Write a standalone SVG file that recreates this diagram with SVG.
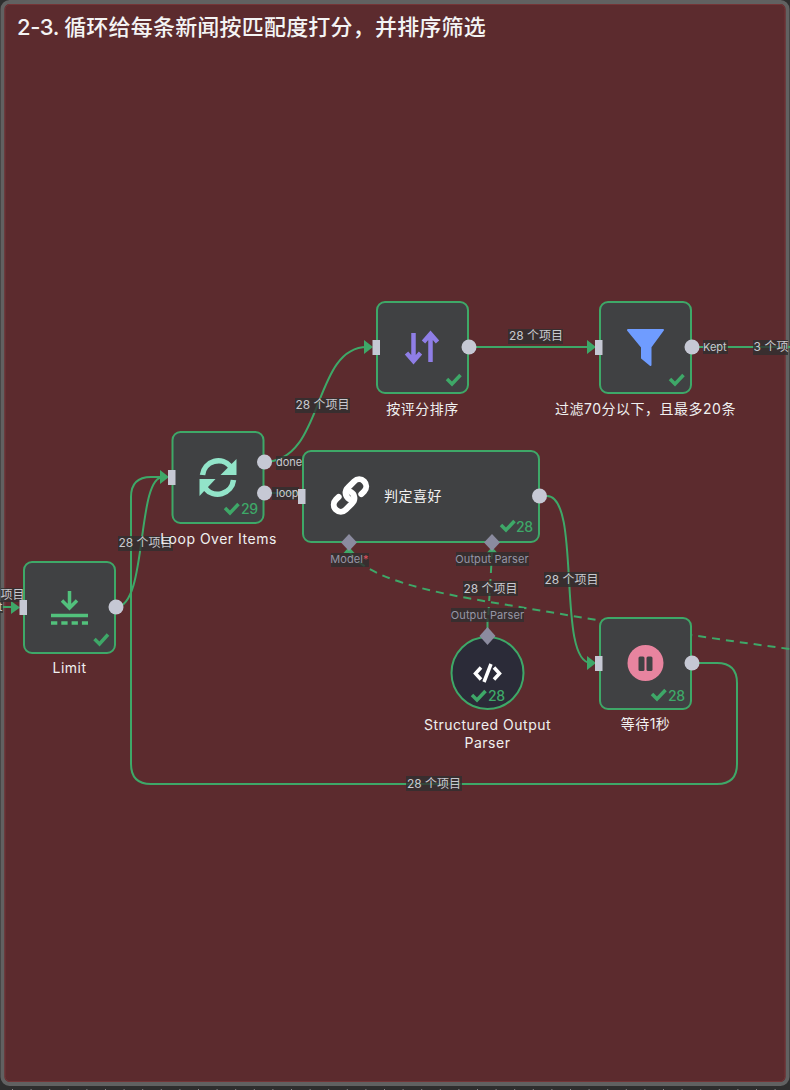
<svg xmlns="http://www.w3.org/2000/svg" width="790" height="1090" viewBox="0 0 790 1090">
<style>
text{font-family:"Inter","Noto Sans CJK SC","Noto Sans",sans-serif}
.nb{fill:#404143;stroke:#3ea868;stroke-width:2}
.e{fill:none;stroke:#3ea868;stroke-width:2}
.d{fill:none;stroke:#3ea868;stroke-width:2;stroke-dasharray:8 6}
.a{fill:#3ea868}
.hi{fill:#c6c8d4}
.hd{fill:#8b8b9f}
.ck{fill:none;stroke:#3ea868;stroke-width:3.500}
.n{fill:#3ea868;font-size:14px;font-weight:500}
.t{fill:#f0f0f0;font-size:14px;text-anchor:middle;letter-spacing:.5px}
.lb{fill:#2f2f2f;fill-opacity:.8}
.l{fill:#c9c9ce;font-size:12px;text-anchor:middle}
.p{fill:#9696a6;font-size:11px;text-anchor:middle;letter-spacing:.1px}
.s{fill:#c9c9ce;font-size:11px}
</style>
<rect width="790" height="1090" fill="#2e2e2e"/>
<line x1="12" y1="1089.500" x2="790" y2="1089.500" stroke="#8a8a8a" stroke-width="1" stroke-dasharray="1 17.6"/>
<rect x="2.500" y="2" width="785" height="1082" rx="7" fill="#5c2b2e" stroke="#616161" stroke-width="4"/>
<rect x="5" y="4.500" width="780" height="1077" rx="5" fill="none" stroke="#743537" stroke-width="1"/>
<text x="17" y="35" fill="#f4f4f4" font-size="22" font-weight="500" letter-spacing=".2"><tspan letter-spacing="-.4">2-3. </tspan>循环给每条新闻按匹配度打分，并排序筛选</text>

<g id="connectors">
<path class="e" d="M0,607H14"/>
<path class="e" d="M116,607C148,607 136,477 163,477"/>
<path class="e" d="M692,663H717Q737,663 737,683V764Q737,784 717,784H151Q131,784 131,764V497Q131,477 151,477H163"/>
<path class="e" d="M264,462C325,462 312,347 367,347"/>
<path class="e" d="M264,493H298"/>
<path class="e" d="M469,347H590"/>
<path class="e" d="M692,347H790"/>
<path class="e" d="M547,496C582,496 556,663 591,663"/>
<path class="d" d="M349,551C365,578 430,592 490,602C590,619 690,636 790,649"/>
<path class="d" d="M492,551C491,575 489,600 488,622"/>
<path class="e" d="M487.500,618V630"/>
<polygon class="a" points="11,601 20,607.500 11,614"/>
<polygon class="a" points="160,470 169,477 160,484"/>
<polygon class="a" points="364,340 373,347 364,354"/>
<polygon class="a" points="587,340 596,347 587,354"/>
<polygon class="a" points="587,656 596,663 587,670"/>
<polygon class="a" points="343.500,553 349,547 354.500,553"/>
<polygon class="a" points="486.500,553 492,547 497.500,553"/>
<rect class="lb" x="118" y="536" width="55" height="15"/><text class="l" x="145.500" y="547">28 个项目</text>
<rect class="lb" x="295" y="398" width="55" height="15"/><text class="l" x="322.500" y="409">28 个项目</text>
<rect class="lb" x="508" y="329" width="55" height="15"/><text class="l" x="536" y="340">28 个项目</text>
<rect class="lb" x="544" y="572" width="55" height="15"/><text class="l" x="571.500" y="584">28 个项目</text>
<rect class="lb" x="463" y="581" width="55" height="15"/><text class="l" x="490.500" y="593">28 个项目</text>
<rect class="lb" x="406" y="776" width="56" height="15"/><text class="l" x="434" y="788">28 个项目</text>
<rect class="lb" x="1" y="588" width="23" height="14"/><text class="l" x="12.500" y="599">项目</text>
<rect class="lb" x="0" y="601" width="3" height="12"/><text class="l" x="0.500" y="611">t</text>
<rect class="lb" x="753" y="340" width="35" height="15"/><text class="l" x="771" y="351">3 个项</text>
<rect class="lb" x="703" y="340" width="25" height="14"/><text class="s" x="703" y="351">Kept</text>
<rect class="lb" x="276" y="456" width="26" height="14"/><text class="s" x="276" y="466">done</text>
<rect class="lb" x="272" y="487" width="27" height="13"/><text class="s" x="276" y="497">loop</text>
<rect class="lb" x="331" y="553" width="38" height="14"/><text class="p" x="349.500" y="563">Model<tspan fill="#e0535f">*</tspan></text>
<rect class="lb" x="456" y="552" width="73" height="14"/><text class="p" x="492" y="563">Output Parser</text>
<rect class="lb" x="451" y="608" width="73" height="14"/><text class="p" x="487.500" y="619">Output Parser</text>
</g>

<g id="limit">
<rect class="nb" x="24" y="562" width="91" height="91" rx="8"/>
<path d="M69.500,591V608M62,600.500L69.500,608L77,600.500" fill="none" stroke="#52c17c" stroke-width="3.500"/>
<path d="M51,615.500H88" stroke="#52c17c" stroke-width="3.500"/>
<path d="M51,623H88" stroke="#52c17c" stroke-width="3.500" stroke-dasharray="6.300 4"/>
<path class="ck" d="M94.500,639L99.500,644L108,634.500"/>
<rect class="hi" x="19.500" y="600" width="7.500" height="15"/>
<circle class="hi" cx="116" cy="607" r="7.500"/>
<text class="t" x="69.500" y="673">Limit</text>
</g>

<g id="loop-over-items">
<rect class="nb" x="172.500" y="432" width="91" height="91" rx="8"/>
<g fill="none" stroke="#92e4c9" stroke-width="5.500">
<path d="M202.500,475A16,16 0 0 1 231,467"/>
<path d="M233.500,480A16,16 0 0 1 205,488"/>
</g>
<polygon fill="#92e4c9" points="236.500,459 236.500,475 220.500,475"/>
<polygon fill="#92e4c9" points="199.500,496 199.500,479 215.500,479"/>
<path class="ck" d="M225,508L230,513L238.500,504"/>
<text class="n" x="241" y="514" letter-spacing="-.4">29</text>
<rect class="hi" x="168" y="470" width="7.500" height="15"/>
<circle class="hi" cx="264.500" cy="462" r="7.500"/>
<circle class="hi" cx="264.500" cy="493" r="7.500"/>
<text class="t" x="218.500" y="544">Loop Over Items</text>
</g>

<g id="sort">
<rect class="nb" x="377" y="302" width="91" height="91" rx="8"/>
<path d="M413.500,333V361M406.500,353L413.500,361L420.500,353M430.500,362V334M423.500,342L430.500,334L437.500,342" fill="none" stroke="#8f7ee6" stroke-width="4.500"/>
<path class="ck" d="M447,379L452,384L460.500,375"/>
<rect class="hi" x="372.500" y="340" width="7.500" height="15"/>
<circle class="hi" cx="469" cy="347" r="7.500"/>
<text class="t" x="422.500" y="414">按评分排序</text>
</g>

<g id="filter">
<rect class="nb" x="600" y="302" width="91" height="91" rx="8"/>
<path d="M628,330H663L650.500,347V365L642,358V347Z" fill="#6f9cff" stroke="#6f9cff" stroke-width="2" stroke-linejoin="round"/>
<path class="ck" d="M670,379L675,384L683.500,375"/>
<rect class="hi" x="595" y="340" width="7.500" height="15"/>
<circle class="hi" cx="692" cy="347" r="7.500"/>
<text class="t" x="645.500" y="414">过滤70分以下，且最多20条</text>
</g>

<g id="judge">
<rect class="nb" x="303" y="451" width="236" height="91" rx="8"/>
<g transform="translate(350,495.500) rotate(-45)" fill="none" stroke="#fff" stroke-width="6" stroke-linecap="round">
<path d="M-3,2A7,7 0 0 1 4,-7H13A7,7 0 0 1 13,7H9"/>
<path d="M3,-2A7,7 0 0 1 -4,7H-13A7,7 0 0 1 -13,-7H-9"/>
</g>
<text fill="#f0f0f0" font-size="14" letter-spacing=".5" x="384" y="501">判定喜好</text>
<path class="ck" d="M501,525L506,530L514.500,521"/>
<text class="n" x="516" y="532" letter-spacing="-.4">28</text>
<rect class="hi" x="298" y="489" width="7.500" height="15"/>
<circle class="hi" cx="539.500" cy="496" r="7.500"/>
<polygon class="hd" points="349,534 357,542.500 349,551 341,542.500"/>
<polygon class="hd" points="492,534 500,542.500 492,551 484,542.500"/>
</g>

<g id="wait">
<rect class="nb" x="600" y="618" width="91" height="91" rx="8"/>
<circle cx="645.500" cy="663" r="18" fill="#e8849f"/>
<rect x="638.500" y="656.500" width="6" height="14.500" rx="1.500" fill="#404143"/>
<rect x="646.500" y="656.500" width="6" height="14.500" rx="1.500" fill="#404143"/>
<path class="ck" d="M652,694L657,699L665.500,690"/>
<text class="n" x="668" y="701" letter-spacing="-.4">28</text>
<rect class="hi" x="595" y="656" width="7.500" height="15"/>
<circle class="hi" cx="692" cy="663" r="7.500"/>
<text class="t" x="645.500" y="729">等待1秒</text>
</g>

<g id="structured-output-parser">
<circle cx="487.500" cy="673" r="36" fill="#2b2b38" stroke="#3ea868" stroke-width="2"/>
<path d="M481,667.500L475.500,673.500L481,679.500M494,667.500L499.500,673.500L494,679.500M491,664L484,682" fill="none" stroke="#fff" stroke-width="3.500"/>
<path class="ck" d="M472,695L477,700L485.500,691"/>
<text class="n" x="488" y="701" letter-spacing="-.4">28</text>
<polygon class="hd" points="487.500,627 495.500,636 487.500,645 479.500,636"/>
<text class="t" x="487.500" y="730">Structured Output</text>
<text class="t" x="487.500" y="748">Parser</text>
</g>
</svg>
